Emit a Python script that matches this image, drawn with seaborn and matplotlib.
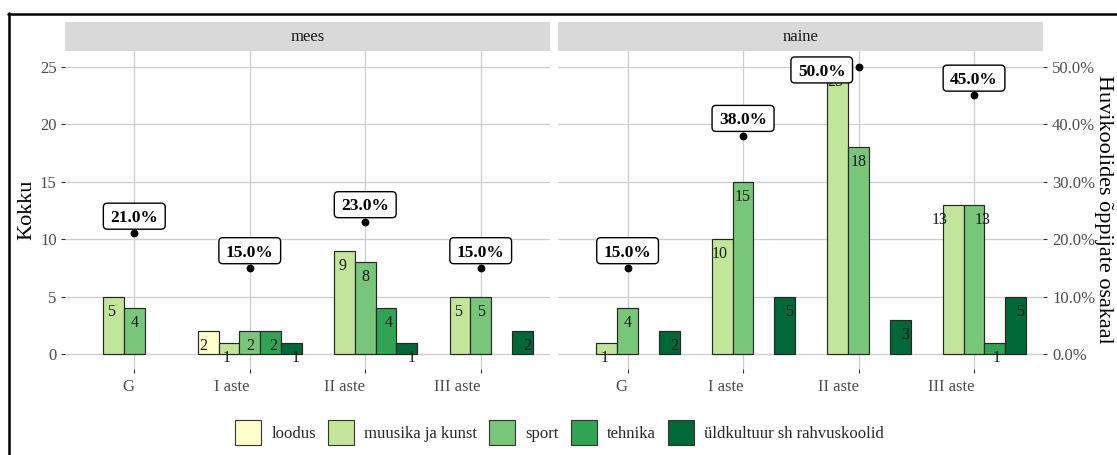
import numpy as np
import pandas as pd
import matplotlib
matplotlib.use('Agg')
import matplotlib.pyplot as plt
import seaborn as sns
from matplotlib.patches import Patch, FancyBboxPatch, Rectangle
from matplotlib.lines import Line2D
from matplotlib.transforms import IdentityTransform
from matplotlib.ticker import FuncFormatter

nan = np.nan

# ---------------- data ----------------
categories = ['G', 'I aste', 'II aste', 'III aste']
groups = ['loodus', 'muusika ja kunst', 'sport', 'tehnika', 'üldkultuur sh rahvuskoolid']
sexes = ['mees', 'naine']
colors = ['#ffffcc', '#c2e699', '#78c679', '#31a354', '#006837']

mees_loodus = [nan, 2, nan, nan]
mees_muusika = [5, 1, 9, 5]
mees_sport = [4, 2, 8, 5]
mees_tehnika = [nan, 2, 4, nan]
mees_yld = [nan, 1, 1, 2]

naine_loodus = [nan, nan, nan, nan]
naine_muusika = [1, 10, 25, 13]
naine_sport = [4, 15, 18, 13]
naine_tehnika = [nan, nan, nan, 1]
naine_yld = [2, 5, 3, 5]

mees_pct = [21.0, 15.0, 23.0, 15.0]
naine_pct = [15.0, 38.0, 50.0, 45.0]

left_title = 'Kokku'
right_title = 'Huvikoolides õppijate osakaal'

counts = {
    'mees': [mees_loodus, mees_muusika, mees_sport, mees_tehnika, mees_yld],
    'naine': [naine_loodus, naine_muusika, naine_sport, naine_tehnika, naine_yld],
}
pcts = {'mees': mees_pct, 'naine': naine_pct}

rows = []
for s in sexes:
    for g, vals in zip(groups, counts[s]):
        for c, v in zip(categories, vals):
            if not np.isnan(v):
                rows.append((s, c, g, float(v)))
df = pd.DataFrame(rows, columns=['sugu', 'aste', 'ring', 'arv'])

# ---------------- layout ----------------
W, H, DPI = 1117, 455, 100
sns.set_theme(style='white')
plt.rcParams['font.family'] = ['Liberation Serif', 'DejaVu Serif']

fig = plt.figure(figsize=(W / DPI, H / DPI), dpi=DPI)
fig.patch.set_facecolor('white')


def fx(px):
    return px / W


def fy(py):
    return 1 - py / H


panel_l = [65.0, 558.3]
panel_w = 485.0
panel_top = 51.0
panel_bot = 368.5
strip_top = 22.3
YLIM = (-1.24, 26.36)
XLIM = (-0.6, 3.6)
TICK_LEN = 4 * 72 / DPI
GRID = '#CDCDCD'

axes = []
for i, s in enumerate(sexes):
    ax = fig.add_axes([fx(panel_l[i]), fy(panel_bot), panel_w / W,
                       (panel_bot - panel_top) / H])
    axes.append(ax)
    sub = df[df['sugu'] == s]
    sns.barplot(data=sub, x='aste', y='arv', hue='ring', order=categories,
                hue_order=groups, palette=colors, saturation=1, width=0.9, gap=0,
                dodge=True, errorbar=None, edgecolor='#262626',
                linewidth=0.85, legend=False, ax=ax, zorder=2)
    ax.set_xlim(*XLIM)
    ax.set_ylim(*YLIM)
    ax.set_xlabel('')
    ax.set_ylabel('')
    ax.set_facecolor('white')
    for sp in ax.spines.values():
        sp.set_visible(False)
    ax.set_yticks([0, 5, 10, 15, 20, 25])
    ax.set_xticks(range(len(categories)))
    ax.set_xticklabels(categories)
    ax.grid(True, color=GRID, lw=0.9)
    ax.set_axisbelow(True)
    ax.tick_params(axis='x', bottom=True, length=TICK_LEN, width=0.8,
                   color='#333333', labelcolor='#4D4D4D', labelsize=12, pad=4.5)
    for lbl in ax.get_xticklabels():
        lbl.set_ha('right')
    if i == 0:
        ax.tick_params(axis='y', left=True, length=TICK_LEN, width=0.8,
                       color='#333333', labelcolor='#4D4D4D', labelsize=12, pad=3.1)
    else:
        ax.tick_params(axis='y', left=False, labelleft=False)

    # value labels on bars (dodged with width 1.0)
    for ci in range(len(categories)):
        vals = [counts[s][k][ci] for k in range(len(groups))]
        for k, v in enumerate(vals):
            if np.isnan(v):
                continue
            xt = ci + (k - 2) * 0.2
            shift = 0.0
            if k > 0 and vals[k - 1] == v and v >= 10:
                shift += 0.07
            if k < len(groups) - 1 and vals[k + 1] == v and v >= 10:
                shift -= 0.1
            ax.annotate(f'{int(v)}', (xt + shift, v), xytext=(0, -7),
                        textcoords='offset pixels', ha='center', va='top',
                        fontsize=11.5, color='#1a1a1a', zorder=3,
                        annotation_clip=False)

    # percentage points
    ypts = [p / 2 for p in pcts[s]]
    ax.plot(range(len(categories)), ypts, 'o', color='black', ms=4.6,
            zorder=4, clip_on=False)

# secondary axis on right panel
sec = axes[1].secondary_yaxis('right', functions=(lambda y: y * 2, lambda p: p / 2))
sec.set_yticks([0, 10, 20, 30, 40, 50])
sec.yaxis.set_major_formatter(FuncFormatter(lambda v, p: f'{v:.1f}%'))
sec.tick_params(axis='y', length=TICK_LEN, width=0.8, color='#333333',
                labelcolor='#4D4D4D', labelsize=12, pad=3.4)
for sp in sec.spines.values():
    sp.set_visible(False)

# strips
for i, s in enumerate(sexes):
    fig.add_artist(Rectangle((fx(panel_l[i]), fy(panel_top)), panel_w / W,
                             (panel_top - strip_top) / H, transform=fig.transFigure,
                             facecolor='#D9D9D9', edgecolor='none', zorder=1))
    fig.text(fx(panel_l[i] + panel_w / 2), fy((panel_top + strip_top) / 2), s,
             ha='center', va='center', fontsize=12, color='#1A1A1A', zorder=2)

# axis titles
mid_y = fy((panel_top + panel_bot) / 2)
fig.text(fx(27), mid_y, left_title, rotation=90, ha='center', va='center',
         fontsize=16, color='black')
fig.text(fx(1103), mid_y, right_title, rotation=270, ha='center', va='center',
         fontsize=16, color='black')

# legend
handles = [Patch(facecolor=c, edgecolor='#333333', linewidth=0.8) for c in colors]
fig.legend(handles, groups, loc='center', bbox_to_anchor=(fx(559.5), fy(432.5)),
           ncol=5, frameon=False, fontsize=12, handlelength=1.56,
           handleheight=1.93, handletextpad=0.62, columnspacing=0.72,
           borderpad=0, borderaxespad=0)

# border (cropped frame)
fig.add_artist(Line2D([fx(8.7), fx(8.7)], [fy(13.0), 0], transform=fig.transFigure,
                      color='black', lw=1.8))
fig.add_artist(Line2D([fx(7.8), 1], [fy(14.0), fy(14.0)], transform=fig.transFigure,
                      color='black', lw=1.8))

# percentage labels with boxes
fig.canvas.draw()
renderer = fig.canvas.get_renderer()
for i, s in enumerate(sexes):
    ax = axes[i]
    y0 = ax.transData.transform((0, 0))[1]
    unit = ax.transData.transform((0, 1))[1] - y0
    top_px = ax.transData.transform((0, YLIM[1]))[1]
    for ci, p in enumerate(pcts[s]):
        px, py = ax.transData.transform((ci, p / 2))
        t = fig.text(0, 0, f'{p:.1f}%', fontsize=12.5, fontweight='bold',
                     ha='center', va='baseline', color='black', zorder=7)
        tw = t.get_window_extent(renderer).width
        bw, bh = tw + 14, 26
        cx, cy = px, py + 1.5 * unit
        if cy + bh / 2 > top_px:
            cx = px - 6 - bw / 2
            cy = py - 3.3
        t.set_position((cx / W, (cy - 5.8) / H))
        box = FancyBboxPatch((cx - bw / 2, cy - bh / 2), bw, bh,
                             boxstyle='round,pad=0,rounding_size=4',
                             transform=IdentityTransform(), facecolor='white',
                             edgecolor='black', linewidth=1.0, zorder=6)
        fig.add_artist(box)

fig.savefig('out.png', dpi=DPI, facecolor='white')
